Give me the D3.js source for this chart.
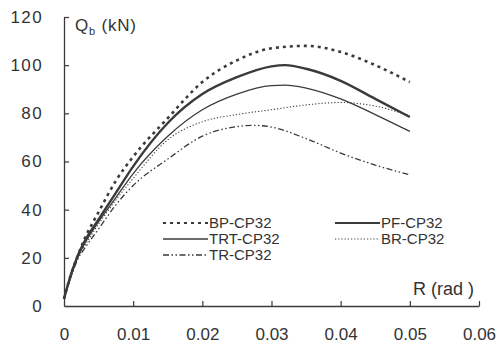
<!DOCTYPE html>
<html>
<head>
<meta charset="utf-8">
<script src="https://cdn.jsdelivr.net/npm/d3@7"></script>
<style>
  body { margin: 0; background: #fff; }
  text { font-family: "Liberation Sans", Arial, sans-serif; fill: #333; }
</style>
</head>
<body>
<svg id="chart" width="500" height="345"></svg>
<script>
// rotation R (rad) sampled for every series
const rotBP  = [0, 0.001, 0.002, 0.003, 0.005, 0.0075, 0.01, 0.015, 0.02, 0.025, 0.03, 0.035, 0.04, 0.045, 0.05];
const qBP    = [3, 13, 21, 28, 39, 52, 62, 78, 93, 102, 107, 108, 105.5, 100, 93];

const rotPF  = [0, 0.001, 0.002, 0.003, 0.005, 0.0075, 0.01, 0.015, 0.02, 0.025, 0.03, 0.032, 0.035, 0.04, 0.045, 0.05];
const qPF    = [3, 13, 21, 27, 36, 47, 58, 76, 88, 95, 99.5, 100, 98.5, 93.5, 86, 78.5];

const rotTRT = [0, 0.001, 0.002, 0.003, 0.005, 0.0075, 0.01, 0.015, 0.02, 0.025, 0.03, 0.032, 0.035, 0.04, 0.045, 0.05];
const qTRT   = [3, 13, 20.5, 26, 35, 45, 55, 70.5, 81.5, 88, 91.5, 91.7, 90.5, 86, 79.5, 72.5];

const rotBR  = [0, 0.001, 0.002, 0.003, 0.005, 0.0075, 0.01, 0.015, 0.02, 0.025, 0.03, 0.035, 0.04, 0.045, 0.05];
const qBR    = [3, 12, 20, 25, 34, 44, 53, 69, 76.5, 79.5, 81.5, 83.5, 84.5, 83, 79];

const rotTR  = [0, 0.001, 0.002, 0.003, 0.005, 0.0075, 0.01, 0.015, 0.02, 0.025, 0.0275, 0.03, 0.035, 0.04, 0.045, 0.05];
const qTR    = [3, 12, 19.5, 24, 32, 42, 50, 61, 70.5, 74.5, 75, 74.3, 69.5, 63.5, 58.5, 54.5];

const seriesNames = ["BP-CP32", "PF-CP32", "TRT-CP32", "BR-CP32", "TR-CP32"];
const xTicks = [0, 0.01, 0.02, 0.03, 0.04, 0.05, 0.06];
const yTicks = [0, 20, 40, 60, 80, 100, 120];

const svg = d3.select("#chart");
const ink = "#3a3a3a";

const x = d3.scaleLinear().domain([0, 0.06]).range([64, 479]);
const y = d3.scaleLinear().domain([0, 120]).range([306, 17]);

// line styles per series
const styles = {
    "BP-CP32":  { width: 2.6, dash: "3,4" },
    "PF-CP32":  { width: 2.4, dash: null },
    "TRT-CP32": { width: 1.3, dash: null },
    "BR-CP32":  { width: 1.1, dash: "1.2,2" },
    "TR-CP32":  { width: 1.3, dash: "6,2.5,1.5,2.5,1.5,2.5" }
};

const series = [
    { name: "BP-CP32",  pts: rotBP.map((r, i) => [r, qBP[i]]) },
    { name: "PF-CP32",  pts: rotPF.map((r, i) => [r, qPF[i]]) },
    { name: "TRT-CP32", pts: rotTRT.map((r, i) => [r, qTRT[i]]) },
    { name: "BR-CP32",  pts: rotBR.map((r, i) => [r, qBR[i]]) },
    { name: "TR-CP32",  pts: rotTR.map((r, i) => [r, qTR[i]]) }
];

// axes (ticks point inward)
const yAxis = d3.axisLeft(y).tickValues(yTicks).tickSizeInner(-5).tickSizeOuter(0).tickPadding(22);
const xAxis = d3.axisBottom(x).tickValues(xTicks).tickSizeInner(-5).tickSizeOuter(0).tickPadding(22)
    .tickFormat(d => d === 0 ? "0" : d.toFixed(2));

const gy = svg.append("g").attr("transform", "translate(64,0)").call(yAxis);
const gx = svg.append("g").attr("transform", "translate(0,306)").call(xAxis);

[gx, gy].forEach(g => {
    g.select(".domain").attr("stroke", ink).attr("stroke-width", 1.3);
    g.selectAll(".tick line").attr("stroke", ink).attr("stroke-width", 1.2);
    g.selectAll(".tick text").attr("font-size", 17).attr("fill", "#333")
        .attr("font-family", "'Liberation Sans', Arial, sans-serif");
});
gy.selectAll(".tick text").attr("letter-spacing", 1.4).attr("dx", 1);
gx.selectAll(".tick").filter(d => d === 0).select("line").remove();
gy.selectAll(".tick").filter(d => d === 0).select("line").remove();

// curves
const line = d3.line()
    .x(d => x(d[0]))
    .y(d => y(d[1]))
    .curve(d3.curveMonotoneX);

svg.append("g").selectAll("path")
    .data(series)
    .join("path")
    .attr("d", d => line(d.pts))
    .attr("fill", "none")
    .attr("stroke", ink)
    .attr("stroke-width", d => styles[d.name].width)
    .attr("stroke-dasharray", d => styles[d.name].dash);

// axis titles
const qt = svg.append("text").attr("x", 75).attr("y", 31).attr("font-size", 17).attr("letter-spacing", 0.8);
qt.append("tspan").text("Q");
qt.append("tspan").attr("font-size", 11).attr("dy", 4).text("b");
qt.append("tspan").attr("dy", -4).text(" (kN)");

svg.append("text").attr("x", 413).attr("y", 295).attr("font-size", 18).text("R (rad )");

// legend
const legendPos = {
    "BP-CP32":  [163, 228],
    "TRT-CP32": [163, 244],
    "TR-CP32":  [163, 260],
    "PF-CP32":  [335, 228],
    "BR-CP32":  [335, 244]
};

const lg = svg.append("g").selectAll("g")
    .data(seriesNames)
    .join("g")
    .attr("transform", d => "translate(" + legendPos[d][0] + "," + legendPos[d][1] + ")");

lg.append("line")
    .attr("x1", 0).attr("x2", 45)
    .attr("y1", -5).attr("y2", -5)
    .attr("stroke", ink)
    .attr("stroke-width", d => Math.min(styles[d].width, 2))
    .attr("stroke-dasharray", d => styles[d].dash);

lg.append("text")
    .attr("x", 46)
    .attr("font-size", 15)
    .text(d => d);
</script>
</body>
</html>
